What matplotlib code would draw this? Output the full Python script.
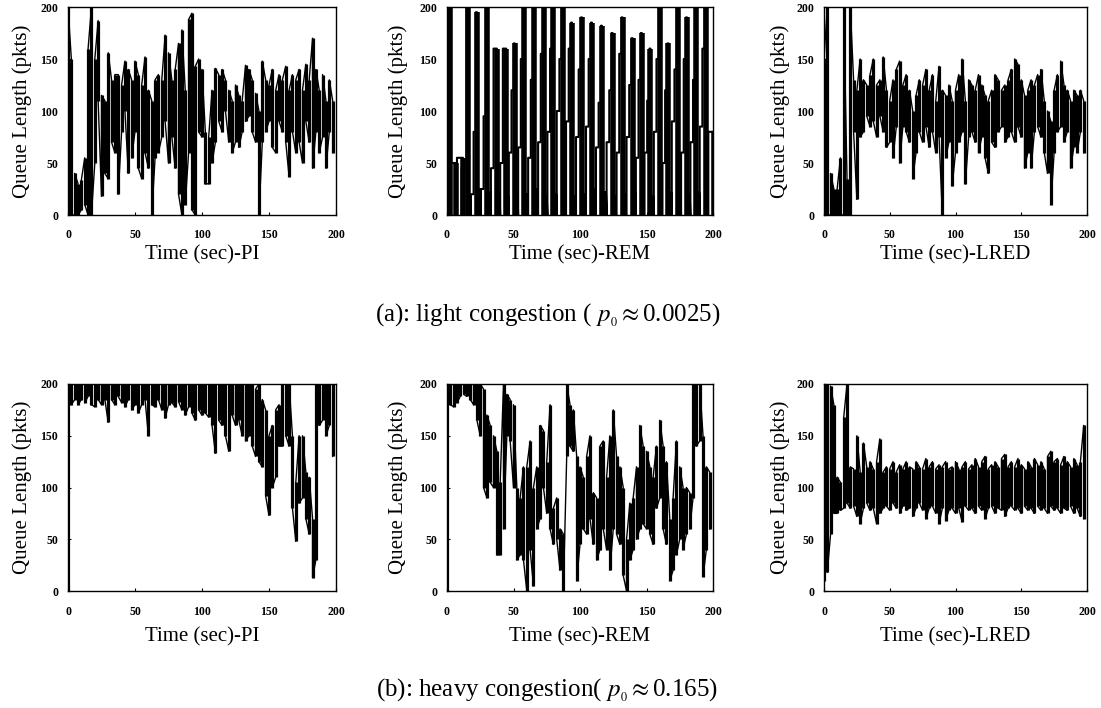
import numpy as np
import matplotlib
matplotlib.use("Agg")
import matplotlib.pyplot as plt

plt.rcParams["font.family"] = ["Liberation Serif", "DejaVu Serif"]
plt.rcParams["mathtext.fontset"] = "stix"

# sampling grid of the read-off envelopes (seconds)
t_bins = np.arange(0, 200, 2.5)

# (a) light congestion, PI: per-bin min / max queue length
pi_a_lo = [0, 0, 0, 0, 5, 10, 0, 0, 50, 110, 18, 40, 35, 70, 60, 20,
           80, 100, 40, 55, 80, 45, 35, 60, 45, 0, 55, 60, 75, 90, 50, 75,
           45, 20, 0, 10, 60, 5, 0, 80, 75, 30, 30, 50, 70, 90, 80, 100,
           70, 60, 70, 65, 80, 90, 95, 80, 70, 0, 70, 80, 90, 65, 60, 90,
           80, 70, 37, 80, 60, 70, 50, 90, 70, 45, 80, 60, 75, 45, 80, 60]
pi_a_hi = [200, 150, 40, 30, 34, 55, 160, 200, 150, 187, 115, 110, 156, 130, 135, 135,
           125, 148, 140, 130, 148, 135, 125, 152, 120, 110, 130, 135, 130, 173, 156, 130,
           140, 165, 178, 120, 188, 194, 143, 150, 140, 80, 75, 120, 141, 135, 140, 130,
           120, 110, 125, 115, 110, 144, 140, 130, 117, 100, 148, 130, 125, 140, 120, 135,
           130, 143, 120, 135, 130, 140, 120, 145, 130, 170, 140, 120, 135, 110, 130, 110]

# (a) REM: one saw-tooth cycle per entry (drop time, two rise steps, peak, floor)
rem_a_peak_t = [2.5, 7, 12, 15.5, 22.5, 30, 37.5, 44.5, 51, 58, 65.5, 73, 80, 87, 94,
                101.5, 109, 116.5, 124.5, 132, 139.5, 146.5, 153, 160, 166.5, 173.5,
                180.5, 187.5, 194.5, 201]
rem_a_step1 = [150, 50, 55, 45, 20, 25, 45, 50, 60, 65, 55, 70, 80, 100, 90,
               75, 85, 65, 70, 60, 75, 55, 60, 80, 50, 90, 60, 70, 85, 80]
rem_a_step2 = [150, 50, 55, 45, 80, 95, 160, 160, 120, 150, 130, 155, 160, 150, 160,
               140, 150, 108, 120, 155, 125, 130, 110, 150, 120, 140, 150, 130, 160, 80]
rem_a_peak = [200, 50, 55, 200, 195, 200, 160, 160, 165, 200, 200, 200, 200, 200, 185,
              190, 185, 182, 175, 190, 170, 175, 160, 200, 165, 200, 190, 200, 200, 80]
rem_a_floor = [15, 20, 25, 20, 18, 25, 22, 20, 18, 22, 20, 25, 18, 20, 22,
               18, 20, 25, 22, 18, 20, 22, 25, 18, 20, 22, 18, 20, 22, 15]

# (a) LRED
lred_a_lo = [0, 0, 0, 0, 0, 0, 0, 0, 0, 80, 15, 75, 80, 95, 85, 90,
             75, 95, 80, 65, 70, 55, 85, 50, 85, 80, 70, 35, 60, 80, 70, 85,
             65, 80, 60, 75, 0, 55, 70, 28, 60, 70, 80, 30, 75, 80, 70, 60,
             75, 55, 40, 70, 65, 80, 85, 70, 75, 80, 70, 85, 75, 45, 60, 45,
             80, 85, 75, 60, 40, 10, 60, 80, 85, 70, 80, 45, 65, 60, 80, 60]
lred_a_hi = [150, 200, 40, 25, 25, 55, 200, 35, 200, 130, 120, 150, 130, 125, 135, 150,
             125, 130, 152, 120, 110, 130, 140, 148, 125, 135, 120, 100, 115, 130, 125, 140,
             120, 135, 110, 143, 120, 115, 125, 110, 120, 135, 150, 110, 130, 125, 120, 135,
             125, 115, 110, 120, 135, 130, 120, 125, 130, 140, 150, 145, 130, 115, 120, 130,
             125, 135, 140, 110, 100, 90, 120, 135, 148, 125, 120, 110, 120, 115, 120, 110]

# (b) heavy congestion, PI
pi_b_lo = [0, 180, 185, 180, 185, 182, 188, 180, 178, 185, 180, 185, 163, 185, 180, 188,
           182, 178, 185, 175, 180, 172, 180, 185, 150, 180, 178, 185, 175, 167, 180, 182,
           178, 183, 175, 170, 178, 172, 165, 175, 170, 172, 168, 160, 133, 165, 160, 150,
           135, 170, 160, 165, 150, 145, 150, 140, 130, 125, 120, 92, 73, 100, 110, 140,
           140, 150, 140, 80, 48, 85, 90, 70, 55, 13, 30, 160, 165, 150, 160, 130]
pi_b_hi = [200] * 56 + [195, 200, 185, 175, 150, 160, 175, 180,
                        200, 200, 200, 150, 105, 150, 150, 115, 110, 70, 200, 200,
                        200, 200, 200, 200]

# (b) REM
rem_b_lo = [0, 180, 178, 182, 188, 190, 188, 185, 180, 165, 150, 100, 90, 105, 100, 35,
            35, 60, 150, 145, 100, 30, 35, 30, 0, 40, 5, 60, 70, 100, 75, 60,
            45, 50, 20, 0, 130, 140, 135, 10, 45, 60, 55, 70, 45, 30, 40, 60,
            40, 20, 60, 55, 45, 15, 0, 30, 40, 50, 60, 65, 60, 55, 45, 80,
            90, 60, 45, 10, 20, 35, 50, 40, 55, 60, 90, 140, 145, 14, 40, 60]
rem_b_hi = [200, 200, 200, 200, 200, 200, 200, 200, 200, 200, 200, 195, 170, 160, 150, 135,
            105, 200, 190, 185, 180, 100, 90, 120, 120, 145, 100, 120, 160, 155, 125, 180,
            80, 90, 60, 55, 200, 180, 175, 130, 120, 110, 130, 150, 95, 90, 140, 145,
            110, 150, 175, 130, 120, 100, 50, 85, 90, 120, 160, 140, 135, 120, 110, 140,
            165, 140, 125, 70, 90, 145, 120, 100, 100, 95, 200, 200, 200, 150, 120, 115]

# (b) LRED
lred_b_lo = [10, 18, 55, 75, 75, 78, 80, 85, 80, 82, 72, 65, 80, 85, 78, 80,
             65, 75, 80, 82, 78, 85, 80, 75, 82, 78, 80, 72, 80, 85, 78, 70,
             80, 82, 75, 65, 80, 68, 78, 80, 75, 80, 67, 82, 78, 80, 75, 82,
             78, 70, 80, 82, 75, 80, 78, 72, 80, 82, 78, 80, 75, 82, 78, 80,
             75, 82, 78, 80, 75, 82, 78, 80, 75, 80, 78, 82, 75, 80, 72, 70]
lred_b_hi = [200, 200, 198, 180, 110, 105, 168, 200, 120, 118, 150, 115, 143, 120, 125, 118,
             125, 147, 115, 120, 118, 125, 115, 122, 118, 125, 120, 118, 125, 120, 118, 128,
             120, 125, 118, 122, 120, 125, 118, 120, 125, 118, 120, 125, 118, 122, 128, 120,
             125, 130, 118, 122, 125, 120, 128, 132, 120, 125, 120, 128, 122, 118, 125, 120,
             128, 122, 125, 118, 130, 135, 125, 128, 122, 130, 125, 120, 128, 122, 125, 160]

X_LABELS = ["Time (sec)-PI", "Time (sec)-REM", "Time (sec)-LRED"]
Y_LABEL = "Queue Length (pkts)"


def envelope_trace(t, lo, hi):
    # vertical stroke per bin, alternating direction so the pen never jumps
    xs, ys = [], []
    for i, (a, b, c) in enumerate(zip(t, lo, hi)):
        xs += [a, a]
        ys += [b, c] if i % 2 == 0 else [c, b]
    return xs, ys


def draw_envelope(ax, lo, hi):
    xs, ys = envelope_trace(t_bins, lo, hi)
    ax.plot(xs, ys, color="black", lw=1.0)
    ax.vlines(t_bins, lo, hi, color="black", lw=2.3)


def draw_sawtooth(ax):
    xs, ys = [], []
    prev = -3.0
    for tp, s1, s2, pk, fl in zip(rem_a_peak_t, rem_a_step1, rem_a_step2,
                                  rem_a_peak, rem_a_floor):
        rise = tp - 4.5
        # noisy floor between the previous drop and the next rise
        for j, tt in enumerate(np.arange(prev, rise, 0.5)):
            xs += [tt, tt]
            ys += [0, fl] if j % 2 == 0 else [fl, 0]
        xs += [rise, rise, tp - 2.5, tp - 2.5, tp - 0.8, tp - 0.8, tp, tp]
        ys += [0, s1, s1, s2, s2, pk, pk, 0]
        prev = tp
    ax.plot(xs, ys, color="black", lw=1.5)
    ax.vlines(rem_a_peak_t, 0, rem_a_peak, color="black", lw=4.0)


def style_axis(ax, xlabel, row):
    ax.set_xlim(0, 200)
    ax.set_ylim(0, 200)
    ax.set_xticks(range(0, 201, 50))
    ax.set_yticks(range(0, 201, 50))
    ax.tick_params(direction="in", length=2.5, width=0.8, labelsize=8.5,
                   pad=10 if row == 0 else 11)
    ax.tick_params(axis="y", pad=7)
    for lab in ax.get_xticklabels() + ax.get_yticklabels():
        lab.set_fontweight("bold")
    for s in ax.spines.values():
        s.set_linewidth(1.0)
    ax.set_xlabel(xlabel, fontsize=15, va="center")
    ax.set_ylabel(Y_LABEL, fontsize=15, va="center")
    ax.xaxis.set_label_coords(0.5, -0.19 if row == 0 else -0.222)


fig = plt.figure(figsize=(11.01, 7.08), dpi=100)
cols = [(68, 268), (447, 266), (824, 263)]
rows = [(7, 208), (384, 207)]
ylab_x = [-0.172, -0.184, -0.168]
axes = []
for r, (top, h) in enumerate(rows):
    for c, (left, w) in enumerate(cols):
        ax = fig.add_axes([left / 1101, 1 - (top + h) / 708, w / 1101, h / 708])
        style_axis(ax, X_LABELS[c], r)
        ax.yaxis.set_label_coords(ylab_x[c], 0.5)
        axes.append(ax)

draw_envelope(axes[0], pi_a_lo, pi_a_hi)
draw_sawtooth(axes[1])
draw_envelope(axes[2], lred_a_lo, lred_a_hi)
draw_envelope(axes[3], pi_b_lo, pi_b_hi)
draw_envelope(axes[4], rem_b_lo, rem_b_hi)
draw_envelope(axes[5], lred_b_lo, lred_b_hi)

fig.text(548 / 1101, 1 - 315 / 708, r"(a): light congestion ( $p_{_0}\approx$0.0025)",
         ha="center", va="center", fontsize=18)
fig.text(547 / 1101, 1 - 690 / 708, r"(b): heavy congestion( $p_{_0}\approx$0.165)",
         ha="center", va="center", fontsize=18)

fig.savefig("out.png", dpi=100)
